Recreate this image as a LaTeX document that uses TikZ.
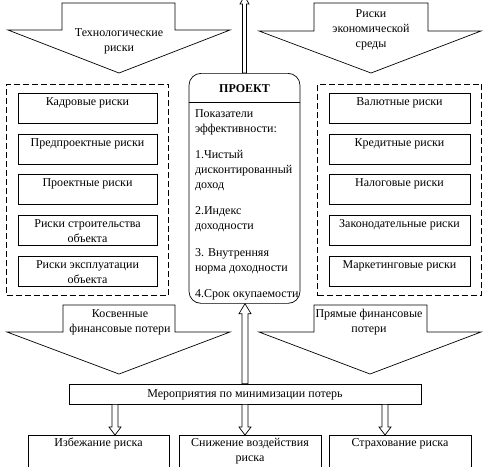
\documentclass[tikz,border=0pt]{standalone}
\usepackage{fontspec}
\setmainfont{Liberation Serif}
\usetikzlibrary{positioning,fit,calc}

\begin{document}
\begin{tikzpicture}[x=1pt, y=-1pt, line width=0.7pt,
	every node/.style={font=\fontsize{12}{15}\selectfont},
	riskbox/.style={draw, align=center, inner ysep=0pt, text height=12pt, text depth=18pt, minimum width=139pt},
	twoline/.style={text height=27pt, text depth=3pt},
	group/.style={draw, dash pattern=on 6pt off 3pt, inner xsep=11pt, inner ysep=9pt},
	hollow/.style n args={3}{fill=white, to path={
		let \p1=(\tikztostart), \p2=(\tikztotarget), \p3=($(\x1,\y2)!#3!(\x1,\y1)$) in
		(\x1-#1,\y1) -- (\x1-#1,\y3) -- (\x1-#2,\y3) -- (\x1,\y2) -- (\x1+#2,\y3) -- (\x1+#1,\y3) -- (\x1+#1,\y1) -- cycle}}]
	\clip (0,0) rectangle (486,466);
	% block arrows
	\draw (62,3) -- (175,3) -- (175,30) -- (230,30) -- (119,73) -- (8,30) -- (62,30) -- cycle;
	\draw (314,3) -- (428,3) -- (428,31) -- (481,31) -- (371,73) -- (259,31) -- (314,31) -- cycle;
	\draw (63,305) -- (175,305) -- (175,332) -- (230,332) -- (119,374) -- (7,332) -- (63,332) -- cycle;
	\draw (314,305) -- (427,305) -- (427,332) -- (481,332) -- (370,374) -- (259,332) -- (314,332) -- cycle;
	\node[align=center] (tech) at (119,41) {Технологические\\риски};
	\node[align=center] (econ) at (371,29.5) {Риски\\экономической\\среды};
	\node[align=center] (indirect) at (120,322.5) {Косвенные\\финансовые потери};
	\node[align=center] (direct) at (369,322.5) {Прямые финансовые\\потери};
	% left group
	\node[riskbox, anchor=north] (l1) at (87.5,93) {Кадровые риски};
	\node[riskbox, below=10pt of l1] (l2) {Предпроектные риски};
	\node[riskbox, below=10pt of l2] (l3) {Проектные риски};
	\node[riskbox, twoline, below=10pt of l3] (l4) {Риски строительства\\объекта};
	\node[riskbox, twoline, below=10pt of l4] (l5) {Риски эксплуатации\\объекта};
	\node[group, fit=(l1)(l5)] (lgroup) {};
	% right group
	\node[riskbox, minimum width=141pt, anchor=north] (r1) at (399.5,93) {Валютные риски};
	\node[riskbox, minimum width=141pt, below=10pt of r1] (r2) {Кредитные риски};
	\node[riskbox, minimum width=141pt, below=10pt of r2] (r3) {Налоговые риски};
	\node[riskbox, minimum width=141pt, below=10pt of r3] (r4) {Законодательные риски};
	\node[riskbox, minimum width=141pt, below=10pt of r4] (r5) {Маркетинговые риски};
	\node[group, fit=(r1)(r5)] (rgroup) {};
	% project
	\node[draw, rounded corners=12pt, minimum width=111pt, minimum height=230pt, anchor=north] (proj) at (244.5,73) {};
	\node[below=8pt of proj.north] (ptitle) {\textbf{ПРОЕКТ}};
	\draw ([yshift=-29pt]proj.north west) -- ([yshift=-29pt]proj.north east);
	\node[anchor=north west, align=left, inner sep=0pt] (pbody) at ([xshift=6pt,yshift=-36pt]proj.north west)
		{Показатели\\эффективности:\\[11pt]1.Чистый\\дисконтированный\\доход\\[11pt]2.Индекс\\доходности\\[12pt]3. Внутренняя\\норма доходности\\[11pt]4.Срок окупаемости};
	\coordinate[above=77pt of proj.north] (top);
	% measures
	\node[draw, minimum width=352pt, minimum height=20pt, text height=9pt, text depth=3pt, inner ysep=0pt] (meas) at (245,394) {Мероприятия по минимизации потерь};
	\node[riskbox, minimum width=141pt, text height=11pt, text depth=29pt, anchor=north] (b1) at (98.5,435) {Избежание риска};
	\node[riskbox, minimum width=142pt, text height=26pt, text depth=14pt, anchor=north] (b2) at (250,435) {Снижение воздействия\\риска};
	\node[riskbox, minimum width=142pt, text height=11pt, text depth=29pt, anchor=north] (b3) at (400,435) {Страхование риска};
	% hollow arrows
	\draw[hollow={2pt}{4.5pt}{8pt}] (proj.north) to (top);
	\draw[hollow={3pt}{6pt}{10pt}] (meas.north) to (proj.south);
	\draw[hollow={3pt}{6pt}{8pt}] ([xshift=-130pt]meas.south) to (b1.north);
	\draw[hollow={3pt}{6pt}{8pt}] (meas.south) to (b2.north);
	\draw[hollow={3pt}{6pt}{8pt}] ([xshift=140pt]meas.south) to (b3.north);
\end{tikzpicture}
\end{document}
